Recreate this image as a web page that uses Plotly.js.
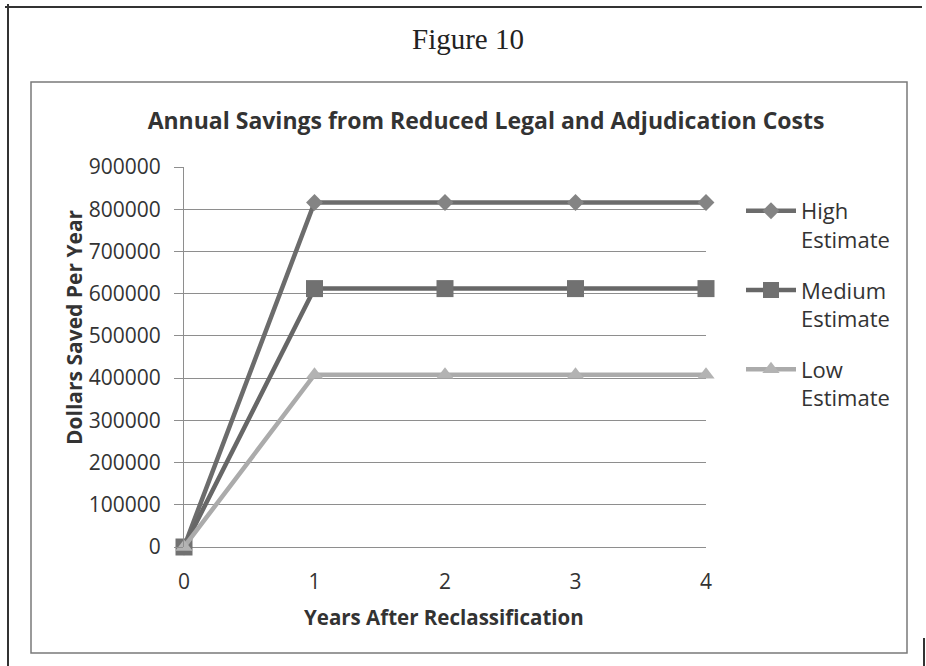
<!DOCTYPE html>
<html>
<head>
<meta charset="utf-8">
<script src="https://cdn.plot.ly/plotly-3.0.1.min.js"></script>
<style>
html,body{margin:0;padding:0;background:#fff;}
#chart{width:926px;height:666px;}
</style>
</head>
<body>
<div id="chart"></div>
<script>
const years = [0, 1, 2, 3, 4];
const highEstimate = [0, 816000, 816000, 816000, 816000];
const mediumEstimate = [0, 612000, 612000, 612000, 612000];
const lowEstimate = [0, 408000, 408000, 408000, 408000];
const seriesNames = ["High<br>Estimate", "Medium<br>Estimate", "Low<br>Estimate"];
const yTicks = [0, 100000, 200000, 300000, 400000, 500000, 600000, 700000, 800000, 900000];
const xTicks = [0, 1, 2, 3, 4];

const W = 926, H = 666;
const M = {l: 184, r: 220, t: 167, b: 119};
const PW = W - M.l - M.r, PH = H - M.t - M.b;
function px(x){ return (x - M.l) / PW; }
function py(y){ return (H - M.b - y) / PH; }

const font = "'Open Sans', Lato, sans-serif";

const traces = [
  {x: years, y: highEstimate, name: seriesNames[0], mode: "lines+markers", legendgroup: "a",
   line: {color: "#6c6c6c", width: 4.5},
   marker: {symbol: "diamond", size: 13, color: "#848484"}, cliponaxis: false},
  {x: years, y: mediumEstimate, name: seriesNames[1], mode: "lines+markers", legendgroup: "b",
   line: {color: "#676767", width: 4.5},
   marker: {symbol: "square", size: 17, color: "#717171"}, cliponaxis: false},
  {x: years, y: lowEstimate, name: seriesNames[2], mode: "lines+markers", legendgroup: "c",
   line: {color: "#ababab", width: 4.5},
   marker: {symbol: "triangle-up", size: 15, color: "#b3b3b3"}, cliponaxis: false}
];

const shapes = [
  {type: "line", xref: "paper", yref: "paper", x0: px(8), x1: px(8), y0: py(4), y1: py(666), line: {color: "#333", width: 2}},
  {type: "line", xref: "paper", yref: "paper", x0: px(5), x1: px(922), y0: py(7), y1: py(7), line: {color: "#333", width: 2}},
  {type: "line", xref: "paper", yref: "paper", x0: px(924), x1: px(924), y0: py(638), y1: py(666), line: {color: "#333", width: 2}},
  {type: "rect", xref: "paper", yref: "paper", x0: px(31), x1: px(907), y0: py(82), y1: py(653), line: {color: "#7a7a7a", width: 1.5}}
];

const annotations = [
  {text: "Figure 10", xref: "paper", yref: "paper", x: px(468), y: py(39), xanchor: "center", yanchor: "middle",
   showarrow: false, font: {family: "'Liberation Serif', 'Times New Roman', serif", size: 29, color: "#222"}},
  {text: "Dollars Saved Per Year", xref: "paper", yref: "paper", x: px(74), y: py(327), xanchor: "center", yanchor: "middle",
   showarrow: false, textangle: -90, font: {family: font, size: 21, color: "#333", weight: "bold"}},
  {text: "Years After Reclassification", xref: "paper", yref: "paper", x: px(444), y: py(617), xanchor: "center", yanchor: "middle",
   showarrow: false, font: {family: font, size: 20.5, color: "#333", weight: "bold"}}
];

const layout = {
  width: W, height: H,
  margin: M,
  paper_bgcolor: "#fff", plot_bgcolor: "#fff",
  title: {text: "Annual Savings from Reduced Legal and Adjudication Costs",
          x: px(486), xref: "paper", xanchor: "center", y: 1 - 121 / H, yanchor: "middle",
          font: {family: font, size: 23, color: "#333", weight: "bold"}},
  xaxis: {range: [0, 4], tickvals: xTicks, showgrid: false, zeroline: false, showline: false,
          ticks: "", ticklabelstandoff: 20, tickfont: {family: font, size: 21, color: "#333"}},
  yaxis: {range: [0, 900000], tickvals: yTicks, ticktext: yTicks.map(String), showgrid: true,
          gridcolor: "#8e8e8e", gridwidth: 1, zeroline: true, zerolinecolor: "#8e8e8e", zerolinewidth: 1,
          showline: true, linecolor: "#8e8e8e", linewidth: 1, ticks: "outside", ticklen: 9,
          tickcolor: "#8e8e8e", ticklabelstandoff: 9, tickfont: {family: font, size: 21, color: "#333"}},
  showlegend: true,
  legend: {x: px(741), y: py(190), xanchor: "left", yanchor: "top", valign: "top",
           font: {family: font, size: 22, color: "#333"}, tracegroupgap: 19, itemwidth: 50,
           bgcolor: "rgba(0,0,0,0)"},
  shapes: shapes,
  annotations: annotations
};

Plotly.newPlot("chart", traces, layout, {displayModeBar: false, staticPlot: true});
</script>
</body>
</html>
